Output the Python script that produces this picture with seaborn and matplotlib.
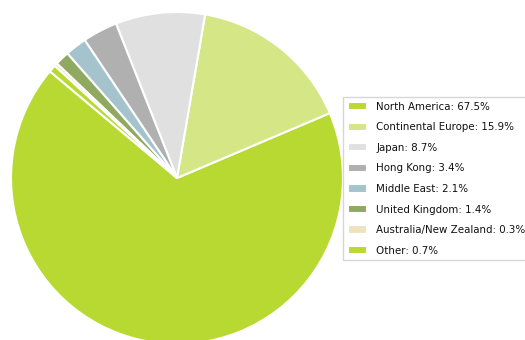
import matplotlib
matplotlib.use("Agg")
import matplotlib.pyplot as plt
import seaborn as sns

sns.set_theme(style="white")
plt.rcParams['font.family'] = ['DejaVu Sans']

regions = ["North America", "Continental Europe", "Japan", "Hong Kong",
           "Middle East", "United Kingdom", "Australia/New Zealand", "Other"]
shares = [67.5, 15.9, 8.7, 3.4, 2.1, 1.4, 0.3, 0.7]
colors = ["#b8d932", "#d4e685", "#e0e0e0", "#b0b0b0",
          "#a4c3cc", "#8faa60", "#f0e2bf", "#b8d932"]

fig = plt.figure(figsize=(5.25, 3.4), dpi=100)
ax = fig.add_axes([11 / 525, -4 / 340, 332 / 525, 332 / 340])

wedges, _ = ax.pie(shares, colors=colors, startangle=140, counterclock=True,
                   radius=1.0, wedgeprops=dict(edgecolor="white", linewidth=1.5))
ax.set_xlim(-1, 1)
ax.set_ylim(-1, 1)
ax.set_aspect("equal")
ax.axis("off")

labels = [f"{r}: {s}%" for r, s in zip(regions, shares)]
fig.legend(wedges, labels, loc="upper left",
           bbox_to_anchor=(343 / 525, 1 - 97 / 340), borderaxespad=0,
           fontsize=7.4, labelspacing=1.03, handlelength=1.9, handleheight=0.85,
           frameon=True, fancybox=False, edgecolor="#cccccc",
           borderpad=0.45, handletextpad=0.9, labelcolor="#111111")

fig.savefig("out.png", dpi=100)
